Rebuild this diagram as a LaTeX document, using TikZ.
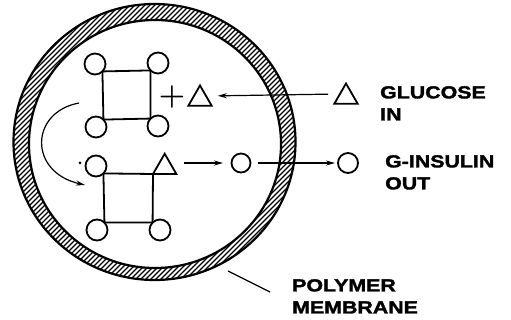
\documentclass[tikz,border=0pt]{standalone}
\usepackage{fontspec}
\newfontfamily\lblfont{Liberation Sans Bold}[FakeStretch=1.22,FakeBold=1.8]
\usetikzlibrary{shapes.geometric,arrows.meta,calc}
\begin{document}
\begin{tikzpicture}[x=1pt,y=-1pt,
  ball/.style={circle,draw,line width=1.8pt,minimum size=21pt,inner sep=0pt,outer sep=0pt},
  tri/.style={regular polygon,regular polygon sides=3,draw,line width=1.8pt,minimum size=27pt,inner sep=0pt,outer sep=0pt},
  bond/.style={line width=1.8pt},
  flow/.style={line width=1.2pt,-{Stealth[length=9pt,width=5pt]}},
  hatch/.style={line width=1.1pt},
  ring/.style={line width=2.2pt},
  lbl/.style={font=\lblfont\fontsize{17.5}{22}\selectfont,align=left,inner sep=0pt,anchor=north west}]
\useasboundingbox (0,0) rectangle (511,320);
% membrane hatching
\begin{scope}[even odd rule]
\clip (154.5,142) ellipse [x radius=141, y radius=138] (155,144) ellipse [x radius=126, y radius=124];
\foreach \i in {-280,-275,...,300} \draw[hatch] (\i,290) -- ++(300,-300);
\end{scope}
\draw[ring] (154.5,142) ellipse [x radius=141, y radius=138];
\draw[ring] (155,144) ellipse [x radius=126, y radius=124];
% top molecule
\node[ball] (a1) at (95,64) {};
\node[ball] (a2) at (158,63) {};
\node[ball] (a3) at (96,127) {};
\node[ball] (a4) at (158,126) {};
\draw[bond] (a1.south east) -- (a2.south west) -- (a4.north west) -- (a3.north east) -- cycle;
\node[font=\bfseries\fontsize{30}{30}\selectfont,inner sep=0pt] (plus) at (172,97) {+};
\node[tri] (ti) at (200,99) {};
\node[tri] (to) at (346,97) {};
\draw[flow,shorten <=10pt,shorten >=10pt] ([yshift=3pt]to.west) -- ([yshift=3pt]ti.east);
% bottom molecule
\node[ball] (b1) at (96,166) {};
\node[ball] (b3) at (97,230) {};
\node[ball] (b4) at (160,230) {};
\node[tri,anchor=corner 2] (tb) at (153,174) {};
\draw[bond] (b1.south east) -- (tb.corner 2) -- (b4.north west) -- (b3.north east) -- cycle;
\node[circle,fill,inner sep=0pt,minimum size=3pt] (dot) at (80,163) {};
\node[ball,minimum size=19pt] (g1) at (241,163) {};
\node[ball,minimum size=20pt] (g2) at (348,163) {};
\draw[flow,shorten <=12pt,shorten >=8.5pt] (tb.east |- g1.west) -- (g1.west);
\draw[flow,shorten <=7pt,shorten >=3pt] (g1.east) -- (g2.west);
% curved arrow
\coordinate (cs) at (79,103);
\coordinate (ce) at (85,185);
\draw[flow] (cs) .. controls (30,112) and (28,172) .. (ce);
% labels
\node[lbl] (gl) at (380,86) {GLUCOSE\\IN};
\node[lbl] (gi) at (385,155) {G-INSULIN\\OUT};
\node[lbl] (pm) at (292,279) {POLYMER\\MEMBRANE};
\coordinate (mp) at (228,271);
\coordinate (mq) at (270,292);
\draw[line width=1.2pt] (mp) -- (mq);
\end{tikzpicture}
\end{document}
